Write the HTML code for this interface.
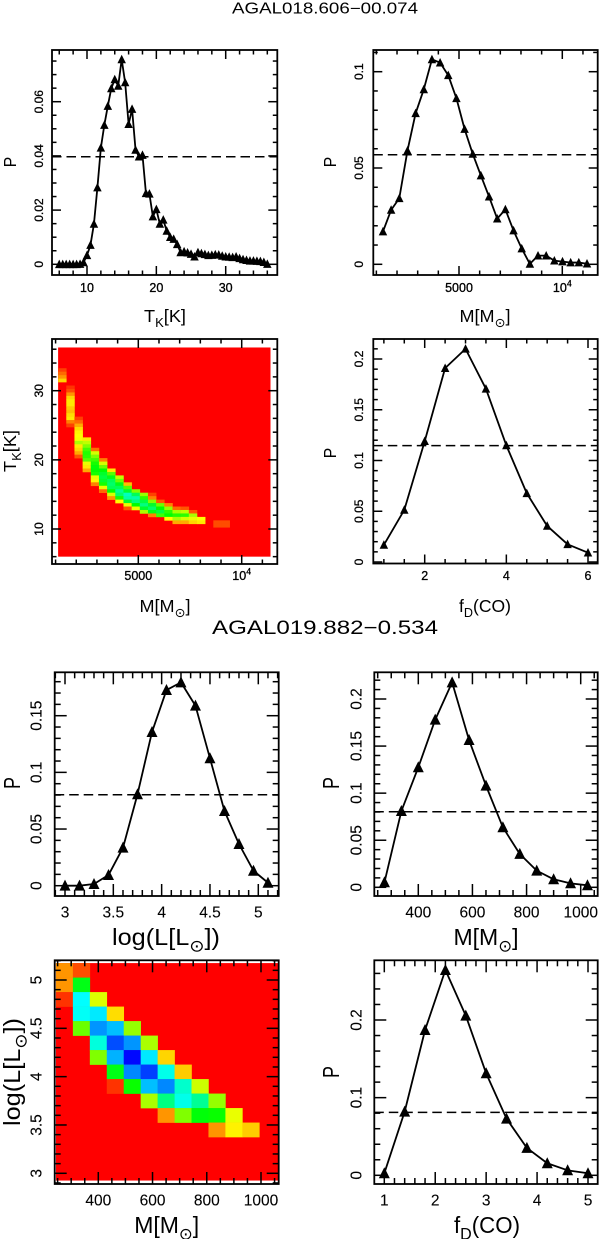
<!DOCTYPE html>
<html>
<head>
<meta charset="utf-8">
<style>
html,body{margin:0;padding:0;background:#fff;}
svg{display:block;font-family:"Liberation Sans","DejaVu Sans",sans-serif;}
</style>
</head>
<body>
<svg id="figure" xmlns="http://www.w3.org/2000/svg" width="600" height="1239" viewBox="0 0 600 1239">
<text x="325" y="13.5" text-anchor="middle" font-size="15.5" textLength="186" lengthAdjust="spacingAndGlyphs">AGAL018.606−00.074</text>
<text x="325" y="634" text-anchor="middle" font-size="19.5" textLength="226" lengthAdjust="spacingAndGlyphs">AGAL019.882−0.534</text>
</svg>
<script>
// ---- Source 1: probability distributions ----
const tempGrid1 = [6,6.5,7,7.5,8,8.5,9,9.5,10,10.5,11,11.5,12,12.5,13,13.5,14,14.5,15,15.5,16,16.5,17,17.5,18,18.5,19,19.5,20,20.5,21,21.5,22,22.5,23,23.5,24,24.5,25,25.5,26,26.5,27,27.5,28,28.5,29,29.5,30,30.5,31,31.5,32,32.5,33,33.5,34,34.5,35,35.5,36];
const tempProb1 = [0,0,0,0,0,0,0.0001,0.0007,0.0033,0.0071,0.0149,0.0283,0.043,0.0514,0.0584,0.0649,0.0682,0.0658,0.0756,0.0671,0.0517,0.0573,0.0422,0.0397,0.0403,0.0262,0.026,0.0176,0.0203,0.0149,0.0164,0.0123,0.01,0.0093,0.0074,0.0044,0.0047,0.0043,0.0038,0.0028,0.0044,0.004,0.0037,0.0033,0.0034,0.0036,0.0035,0.0031,0.0028,0.0027,0.0026,0.0028,0.0022,0.0018,0.0015,0.0013,0.0013,0.0012,0.0011,0.0008,0.0001];
const tempLimit1 = 0.0397;
const massGrid1 = [1320,1715,2110,2505,2900,3295,3690,4085,4480,4875,5270,5665,6060,6455,6850,7245,7640,8035,8430,8825,9220,9615,10010,10405,10800,11195];
const massProb1 = [0.017,0.0282,0.0343,0.059,0.0784,0.0908,0.1064,0.1047,0.0981,0.0862,0.0702,0.0573,0.0461,0.0351,0.0237,0.0285,0.0175,0.0082,0.0002,0.0045,0.0045,0.0019,0.0014,0.0009,0.0009,0.0003];
const massLimit1 = 0.0569;
const fdGrid1 = [1,1.5,2,2.5,3,3.5,4,4.5,5,5.5,6];
const fdProb1 = [0.0168,0.0513,0.119,0.191,0.21,0.1706,0.1148,0.0677,0.0355,0.0174,0.0092];
const fdLimit1 = 0.1147;

// Source 1 joint map: one entry per mass column; first temperature + colour levels (0 red ... 240 blue)
const heatStart1 = [33,30.5,26,23,21.5,20,18.5,17.5,16.5,15.5,15,15,14,13.5,13,13,12.5,11.5,11,11,11];
const heatLevels1 = [
 [15,25,35,50],
 [12,18,35,50,55,55,48,45,52,55,30,15],
 [15,25,40,52,58,60,62,80,55,50,40,20],
 [55,75,90,105,112,110,100,65,55,40],
 [25,70,90,105,115,122,120,115,65,58,30],
 [30,70,95,120,130,135,130,115,65,25],
 [55,100,125,140,145,140,120,70,35],
 [75,95,125,140,155,145,115,60],
 [45,100,130,165,160,130,65,20],
 [90,140,160,150,120,65],
 [85,110,135,150,130,80],
 [15,30,90,130,145,125,30],
 [20,95,120,135,105],
 [30,85,110,120,60],
 [25,80,112,80,40],
 [20,75,110,70,40],
 [20,80,65,50],
 [60,55],
 [0],
 [18,18],
 [18,18]
];

// ---- Source 2: probability distributions ----
const lumGrid2 = [3,3.15,3.3,3.45,3.6,3.75,3.9,4.05,4.2,4.35,4.5,4.65,4.8,4.95,5.1];
const lumProb2 = [0,0,0.0015,0.0094,0.0335,0.0806,0.1356,0.1726,0.1794,0.1588,0.1124,0.0659,0.0368,0.0132,0.0026];
const lumLimit2 = 0.0803;
const massGrid2 = [275,337.5,400,462.5,525,587.5,650,712.5,775,837.5,900,962.5,1025];
const massProb2 = [0.0053,0.081,0.1274,0.178,0.2176,0.1564,0.108,0.0637,0.0354,0.0177,0.0085,0.0042,0.0021];
const massLimit2 = 0.0803;
const fdGrid2 = [1,1.4,1.8,2.2,2.6,3,3.4,3.8,4.2,4.6,5];
const fdProb2 = [0.0026,0.082,0.187,0.2644,0.2056,0.1313,0.073,0.0352,0.0155,0.0064,0.0026];
const fdLimit2 = 0.0811;

// Source 2 joint map: rows of log L with colour levels for mass columns from index 0
const heatRowLum2 = [5.1,4.95,4.8,4.65,4.5,4.35,4.2,4.05,3.9,3.75,3.6,3.45];
const heatRows2 = [
 [35,18,0,0,0,0,0,0,0,0,0,0],
 [35,125,0,0,0,0,0,0,0,0,0,0],
 [12,180,68,0,0,0,0,0,0,0,0,0],
 [0,178,185,52,0,0,0,0,0,0,0,0],
 [0,95,205,195,85,0,0,0,0,0,0,0],
 [0,0,172,222,205,80,0,0,0,0,0,0],
 [0,0,90,198,238,185,50,0,0,0,0,0],
 [0,0,0,125,208,225,175,48,0,0,0,0],
 [0,0,0,12,118,195,208,168,72,0,0,0],
 [0,0,0,0,0,80,150,175,155,85,0,0],
 [0,0,0,0,0,0,35,90,122,118,65,0],
 [0,0,0,0,0,0,0,0,0,35,57,48]
];

// ---- Tick labels ----
const tempTicks = [10,20,30];
const massTicks1 = [5000,10000];
const fdTicks1 = [2,4,6];
const lumTicks = [3,3.5,4,4.5,5];
const massTicks2 = [400,600,800,1000];
const fdTicks2 = [1,2,3,4,5];
const probTicksA = [0,0.02,0.04,0.06];
const probTicksB = [0,0.05,0.1];
const probTicksC = [0,0.05,0.1,0.15,0.2];
const probTicksD = [0,0.05,0.1,0.15];
const probTicksE = [0,0.1,0.2];
const lumMapTicks = [3,3.5,4,4.5,5];
const tempMapTicks = [10,20,30];

const svg = document.getElementById('figure');
const NS = 'http://www.w3.org/2000/svg';

function make(tag, parent, attrs) {
  const n = document.createElementNS(NS, tag);
  for (const k in attrs) n.setAttribute(k, attrs[k]);
  parent.appendChild(n);
  return n;
}
function scale(v0, p0, v1, p1) {
  return v => p0 + (v - v0) * (p1 - p0) / (v1 - v0);
}
function levelColor(level) {
  return 'hsl(' + level + ',100%,50%)';
}
// Rich text: parts = [[string, isSub], ...]
function richText(parent, parts, size, attrs, name) {
  const t = make('text', parent, attrs);
  
  
  t.setAttribute('font-size', size);
  t.setAttribute('text-anchor', 'middle');
  let low = false;
  parts.forEach(p => {
    const s = make('tspan', t, {});
    s.textContent = p[0];
    if (p[1]) {
      s.setAttribute('font-size', size * 0.72);
      if (!low) s.setAttribute('dy', size * 0.28);
      low = true;
    } else {
      if (low) s.setAttribute('dy', -size * 0.28);
      low = false;
    }
  });
  return t;
}
function fmt(v) {
  return String(Math.round(v * 1000) / 1000);
}
function tickLabel(parent, v, x, y, size, rotate, weight, name) {
  const attrs = {x: x, y: y, 'font-size': size, 'text-anchor': 'middle', 'dominant-baseline': 'central', stroke: '#000', 'stroke-width': weight};
  if (rotate) attrs.transform = 'rotate(-90 ' + x + ' ' + y + ')';
  const t = make('text', parent, attrs);
  
  
  if (v === 10000) {
    const a = make('tspan', t, {});
    a.textContent = '10';
    const b = make('tspan', t, {'font-size': size * 0.7, dy: -size * 0.35});
    b.textContent = '4';
  } else {
    t.textContent = fmt(v);
  }
}
function drawAxes(root, c, X, Y) {
  const axes = make('g', root, {stroke: '#000', 'stroke-width': 1.5, fill: 'none'});
  
  
  const [L, T, R, B] = c.box;
  const invX = scale(L, c.xa[0] + (L - c.xa[1]) * (c.xa[2] - c.xa[0]) / (c.xa[3] - c.xa[1]), R, c.xa[0] + (R - c.xa[1]) * (c.xa[2] - c.xa[0]) / (c.xa[3] - c.xa[1]));
  const invY = scale(B, c.ya[0] + (B - c.ya[1]) * (c.ya[2] - c.ya[0]) / (c.ya[3] - c.ya[1]), T, c.ya[0] + (T - c.ya[1]) * (c.ya[2] - c.ya[0]) / (c.ya[3] - c.ya[1]));
  const ticks = (lo, hi, step, major, fn) => {
    const n0 = Math.ceil(lo / step - 1e-6), n1 = Math.floor(hi / step + 1e-6);
    for (let n = n0; n <= n1; n++) {
      const v = n * step;
      const m = Math.abs(v / major - Math.round(v / major)) < 1e-6;
      fn(v, m);
    }
  };
  ticks(invX(L), invX(R), c.xMinor, c.xMajor, (v, m) => {
    const len = m ? c.majorLen : c.majorLen / 2, p = X(v);
    make('line', axes, {x1: p, x2: p, y1: T, y2: T + len});
    make('line', axes, {x1: p, x2: p, y1: B, y2: B - len});
  });
  ticks(invY(B), invY(T), c.yMinor, c.yMajor, (v, m) => {
    const len = m ? c.majorLen : c.majorLen / 2, p = Y(v);
    make('line', axes, {y1: p, y2: p, x1: L, x2: L + len});
    make('line', axes, {y1: p, y2: p, x1: R, x2: R - len});
  });
  make('rect', axes, {x: L, y: T, width: R - L, height: B - T, 'stroke-width': 1.8});
}
function drawLabels(root, c, X, Y) {
  c.xTicks.forEach(v => tickLabel(root, v, X(v), c.xLabelY, c.tickSize, false, c.tickWeight, 'x-tick-label'));
  c.yTicks.forEach(v => tickLabel(root, v, c.yLabelX, Y(v), c.tickSizeY, true, c.tickWeight, 'y-tick-label'));
  const xt = richText(root, c.xTitle, c.titleSize, {x: c.xTitlePos[0], y: c.xTitlePos[1]}, 'x-axis-title');
  if (c.xTitleLen) { xt.setAttribute('textLength', c.xTitleLen); xt.setAttribute('lengthAdjust', 'spacingAndGlyphs'); }
  const yp = c.yTitlePos;
  const yt = richText(root, c.yTitle, c.titleSize, {x: yp[0], y: yp[1], transform: 'rotate(-90 ' + yp[0] + ' ' + yp[1] + ')'}, 'y-axis-title');
  if (c.yTitleLen) { yt.setAttribute('textLength', c.yTitleLen); yt.setAttribute('lengthAdjust', 'spacingAndGlyphs'); }
}
function linePanel(c, xs, ys, limit) {
  const root = make('g', svg, {});
  
  
  const X = scale(c.xa[0], c.xa[1], c.xa[2], c.xa[3]);
  const Y = scale(c.ya[0], c.ya[1], c.ya[2], c.ya[3]);
  drawAxes(root, c, X, Y);
  const dash = make('line', root, {x1: c.box[0], x2: c.box[2], y1: Y(limit), y2: Y(limit), stroke: '#000', 'stroke-width': 1.5, 'stroke-dasharray': '9.5 5'});
  
  
  const pl = make('polyline', root, {points: xs.map((x, i) => X(x) + ',' + Y(ys[i])).join(' '), fill: 'none', stroke: '#000', 'stroke-width': 1.8, 'stroke-linejoin': 'round'});
  
  
  const w = c.marker / 2, up = c.marker * 0.55, dn = c.marker * 0.45;
  xs.forEach((x, i) => {
    const px = X(x), py = Y(ys[i]);
    const m = make('polygon', root, {points: (px - w) + ',' + (py + dn) + ' ' + (px + w) + ',' + (py + dn) + ' ' + px + ',' + (py - up), fill: '#000'});
    
    
  });
  drawLabels(root, c, X, Y);
}
function heatPanel(c, drawCells) {
  const root = make('g', svg, {});
  
  
  const X = scale(c.xa[0], c.xa[1], c.xa[2], c.xa[3]);
  const Y = scale(c.ya[0], c.ya[1], c.ya[2], c.ya[3]);
  drawCells(root, X, Y);
  drawAxes(root, c, X, Y);
  drawLabels(root, c, X, Y);
}
function cell(parent, x0, x1, y0, y1, level) {
  const r = make('rect', parent, {x: Math.min(x0, x1), y: Math.min(y0, y1), width: Math.abs(x1 - x0) + 0.3, height: Math.abs(y1 - y0) + 0.3, fill: levelColor(level)});
  
  
}

const topStyle = {majorLen: 9, tickSize: 12.5, tickSizeY: 12, tickWeight: 0.3, titleSize: 17.5, marker: 8.5};
const botStyle = {majorLen: 12, tickSize: 15.5, tickSizeY: 15.5, tickWeight: 0.1, titleSize: 23, marker: 11};
const Pt = [['P', false]];
const Mt = [['M[M', false], ['\u2299', true], [']', false]];

linePanel(Object.assign({}, topStyle, {
  name: 'panel-temperature-pdf', box: [52, 50, 277.3, 275],
  xa: [10, 87, 30, 225.7], ya: [0, 264.3, 0.06, 101.7],
  xMajor: 10, xMinor: 2, yMajor: 0.02, yMinor: 0.005,
  xTicks: tempTicks, yTicks: probTicksA, xLabelY: 288, yLabelX: 39,
  xTitle: [['T', false], ['K', true], ['[K]', false]], xTitlePos: [165, 322], xTitleLen: 42,
  yTitle: Pt, yTitlePos: [16, 162], yTitleLen: 10.5
}), tempGrid1, tempProb1, tempLimit1);

linePanel(Object.assign({}, topStyle, {
  name: 'panel-mass-pdf', box: [373.3, 50, 597.7, 275],
  xa: [5000, 459, 10000, 562.3], ya: [0, 264.3, 0.1, 71.7],
  xMajor: 5000, xMinor: 1000, yMajor: 0.05, yMinor: 0.01,
  xTicks: massTicks1, yTicks: probTicksB, xLabelY: 288, yLabelX: 359,
  xTitle: Mt, xTitlePos: [485, 322], xTitleLen: 51,
  yTitle: Pt, yTitlePos: [336, 162], yTitleLen: 10.5
}), massGrid1, massProb1, massLimit1);

heatPanel(Object.assign({}, topStyle, {
  name: 'panel-temperature-mass-map', box: [52, 339, 277.3, 564],
  xa: [5000, 138.3, 10000, 241.7], ya: [10, 529, 30, 390.7],
  xMajor: 5000, xMinor: 1000, yMajor: 10, yMinor: 2,
  xTicks: massTicks1, yTicks: tempMapTicks, xLabelY: 576, yLabelX: 39,
  xTitle: Mt, xTitlePos: [165, 612], xTitleLen: 51,
  yTitle: [['T', false], ['K', true], ['[K]', false]], yTitlePos: [16, 451], yTitleLen: 42
}), (root, X, Y) => {
  const g = make('g', root, {});
  
  
  const dm = (massGrid1[1] - massGrid1[0]) / 2, dt = 0.25;
  const bg = make('rect', g, {x: X(massGrid1[0] - dm), y: Y(tempGrid1[tempGrid1.length - 1] + dt), width: X(massGrid1[massGrid1.length - 1] + dm) - X(massGrid1[0] - dm), height: Y(tempGrid1[0]) - Y(tempGrid1[tempGrid1.length - 1] + dt), fill: '#f00'});
  
  
  heatLevels1.forEach((col, i) => {
    col.forEach((lv, j) => {
      if (!lv) return;
      const T = heatStart1[i] - j * 0.5;
      cell(g, X(massGrid1[i] - dm), X(massGrid1[i] + dm), Y(T + dt), Y(T - dt), lv);
    });
  });
});

linePanel(Object.assign({}, topStyle, {
  name: 'panel-depletion-pdf', box: [373.3, 339, 597.7, 563.5],
  xa: [2, 424.7, 6, 588], ya: [0, 562, 0.2, 359],
  xMajor: 2, xMinor: 0.5, yMajor: 0.05, yMinor: 0.01,
  xTicks: fdTicks1, yTicks: probTicksC, xLabelY: 576, yLabelX: 359,
  xTitle: [['f', false], ['D', true], ['(CO)', false]], xTitlePos: [485, 612], xTitleLen: 52,
  yTitle: Pt, yTitlePos: [336, 453], yTitleLen: 10.5
}), fdGrid1, fdProb1, fdLimit1);

linePanel(Object.assign({}, botStyle, {
  name: 'panel-luminosity-pdf', box: [54.7, 672.3, 278.7, 896],
  xa: [3, 65, 5, 258.3], ya: [0, 885.7, 0.15, 715.7],
  xMajor: 0.5, xMinor: 0.1, yMajor: 0.05, yMinor: 0.01,
  xTicks: lumTicks, yTicks: probTicksD, xLabelY: 913, yLabelX: 37,
  xTitle: [['log(L[L', false], ['\u2299', true], ['])', false]], xTitlePos: [166, 945], xTitleLen: 108,
  yTitle: Pt, yTitlePos: [20, 783], yTitleLen: 12
}), lumGrid2, lumProb2, lumLimit2);

linePanel(Object.assign({}, botStyle, {
  name: 'panel-mass-pdf-2', box: [374.3, 672.3, 597.7, 896],
  xa: [400, 418.3, 1000, 580.7], ya: [0, 887.3, 0.2, 699],
  xMajor: 200, xMinor: 50, yMajor: 0.05, yMinor: 0.01,
  xTicks: massTicks2, yTicks: probTicksC, xLabelY: 913, yLabelX: 357,
  xTitle: Mt, xTitlePos: [486, 945], xTitleLen: 65,
  yTitle: Pt, yTitlePos: [339, 783], yTitleLen: 12
}), massGrid2, massProb2, massLimit2);

heatPanel(Object.assign({}, botStyle, {
  name: 'panel-luminosity-mass-map', box: [54.7, 960.3, 278.7, 1184],
  xa: [400, 98.3, 1000, 261], ya: [3, 1173.3, 5, 980],
  xMajor: 200, xMinor: 50, yMajor: 0.5, yMinor: 0.1,
  xTicks: massTicks2, yTicks: lumMapTicks, xLabelY: 1201, yLabelX: 37,
  xTitle: Mt, xTitlePos: [166.7, 1233], xTitleLen: 65,
  yTitle: [['log(L[L', false], ['\u2299', true], ['])', false]], yTitlePos: [20, 1072], yTitleLen: 108
}), (root, X, Y) => {
  const g = make('g', root, {});
  
  
  const dm = (massGrid2[1] - massGrid2[0]) / 2, dl = 0.075;
  const bg = make('rect', g, {x: X(massGrid2[0] - dm), y: Y(lumGrid2[lumGrid2.length - 1] + dl), width: 222.5, height: Y(lumGrid2[0] - dl) - Y(lumGrid2[lumGrid2.length - 1] + dl), fill: '#f00'});
  
  
  heatRows2.forEach((row, j) => {
    row.forEach((lv, i) => {
      if (!lv) return;
      const L = heatRowLum2[j];
      cell(g, X(massGrid2[i] - dm), X(massGrid2[i] + dm), Y(L + dl), Y(L - dl), lv);
    });
  });
});

linePanel(Object.assign({}, botStyle, {
  name: 'panel-depletion-pdf-2', box: [374.3, 960.3, 597.7, 1184],
  xa: [1, 384.3, 5, 588], ya: [0, 1175.3, 0.2, 1020],
  xMajor: 1, xMinor: 0.2, yMajor: 0.1, yMinor: 0.02,
  xTicks: fdTicks2, yTicks: probTicksE, xLabelY: 1201, yLabelX: 357,
  xTitle: [['f', false], ['D', true], ['(CO)', false]], xTitlePos: [487, 1233], xTitleLen: 66,
  yTitle: Pt, yTitlePos: [339, 1072], yTitleLen: 12
}), fdGrid2, fdProb2, fdLimit2);
</script>
</body>
</html>
